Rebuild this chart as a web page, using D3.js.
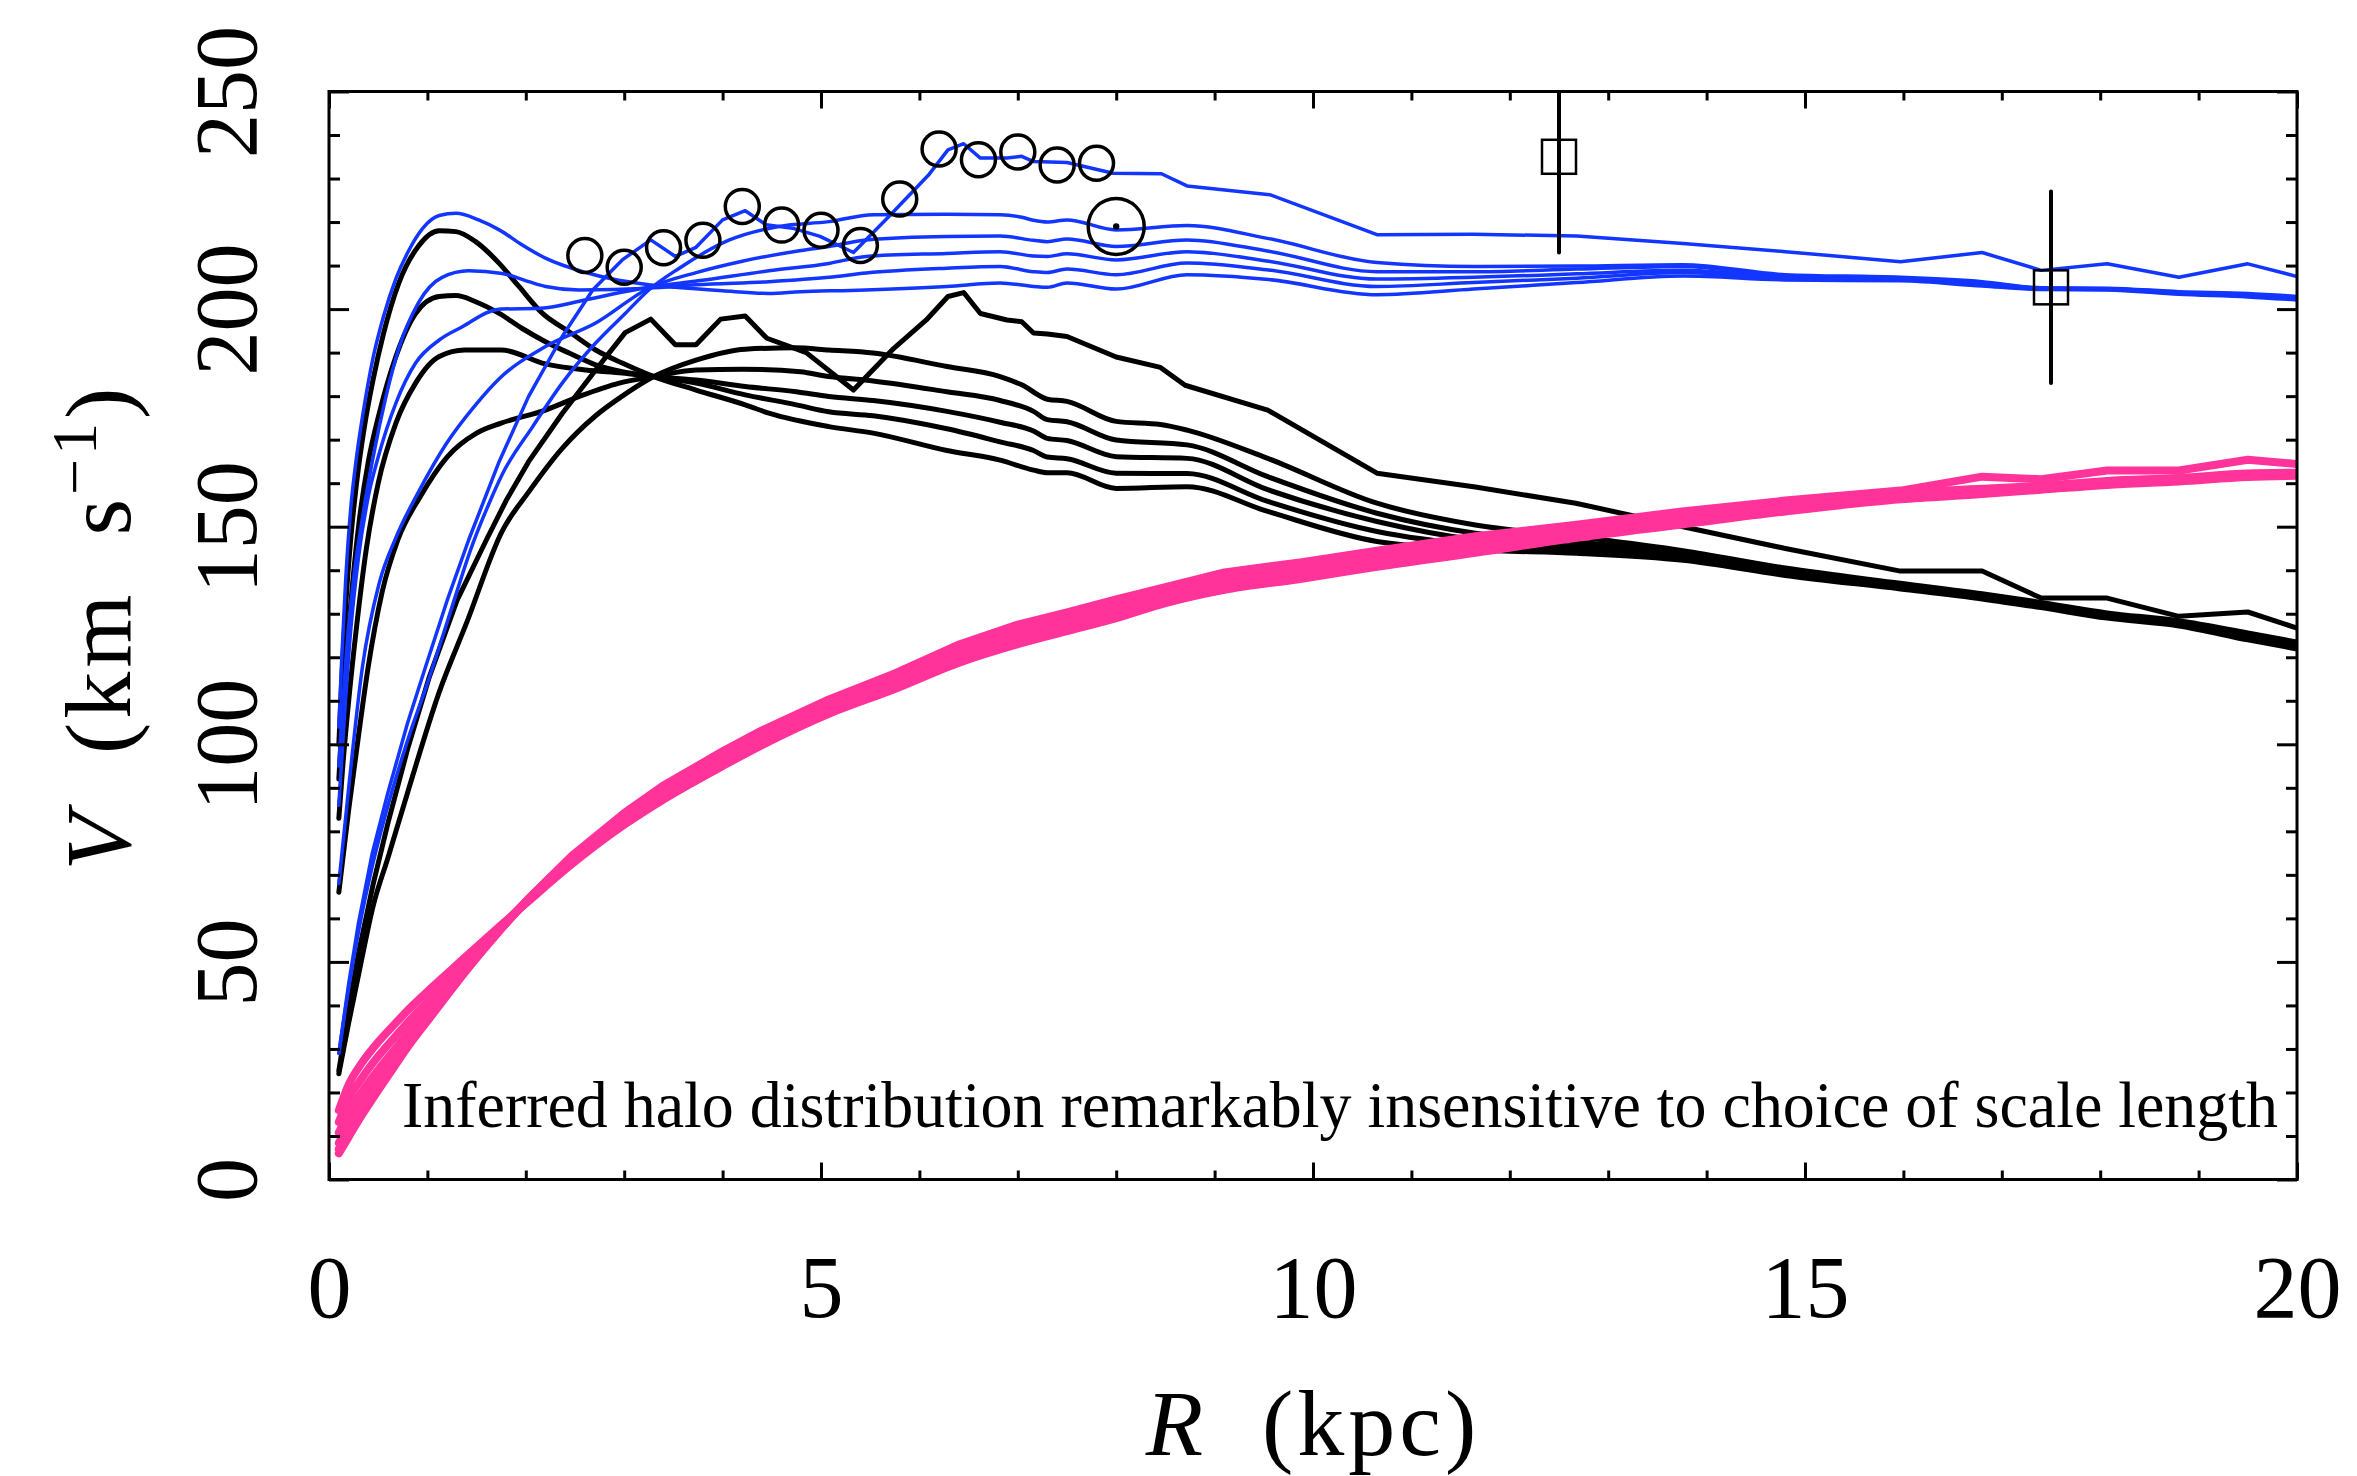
<!DOCTYPE html>
<html><head><meta charset="utf-8">
<script src="https://cdn.jsdelivr.net/npm/d3@7"></script>
<style>
body{margin:0;background:#fff}
svg{display:block;background:#fff}
text{font-family:"Liberation Serif","DejaVu Serif",serif;fill:#000}
</style>
</head><body>
<svg id="chart" width="2357" height="1476"></svg>
<script>
// ---------------- DATA ----------------
const xMajorTicks = [0, 5, 10, 15, 20];
const xMinorTicks = [1,2,3,4,6,7,8,9,11,12,13,14,16,17,18,19];
const yMajorTicks = [0, 50, 100, 150, 200, 250];
const yMinorTicks = [10,20,30,40,60,70,80,90,110,120,130,140,160,170,180,190,210,220,230,240];

// observed rotation-curve points (open circles)
const dataR = [2.6,3.0,3.4,3.8,4.2,4.6,5.0,5.4,5.8,6.2,6.6,7.0,7.4,7.8];
const dataV = [212.3,209.6,214.1,215.8,223.6,219.3,218.1,214.6,225.3,236.8,234.3,236.1,233.1,233.5];
// Sun
const sunR = [8.0];
const sunV = [219];
// outer points (open squares with error bars)
const outerR = [12.5, 17.5];
const outerV = [235, 205];
const outerErr = [22, 22];

// total rotation curves (blue), smallest to largest disc scale length, plus data-following curve
const totalB1 = [[0.1,104],[0.13,120],[0.17,138],[0.22,154],[0.28,166],[0.36,178],[0.45,189],[0.55,198],[0.68,207],[0.8,213],[0.95,218.5],[1.12,221.5],[1.29,222],[1.52,220.5],[1.73,218.2],[1.96,214.8],[2.2,211.7],[2.61,208.4],[2.88,206.9],[3.25,205.6],[3.52,205],[4.0,204.2],[4.47,203.6],[4.79,204],[5.3,204.3],[6.28,205.2],[6.82,206],[7.16,205.2],[7.3,205],[7.5,206],[8.0,204.6],[8.72,207.9],[9.55,206.8],[10.65,203.3],[11.63,204.6],[12.68,206.1],[13.76,207.6],[14.8,206.7],[15.97,206.5],[16.8,205.3],[17.4,204.5],[18.07,204.4],[18.8,203.4],[19.5,202.8],[20,202.1]];
const totalB2 = [[0.1,95],[0.13,106],[0.18,122],[0.25,138],[0.34,152],[0.44,165],[0.58,180],[0.71,191],[0.91,201.5],[1.15,207.3],[1.42,208.8],[1.76,208.2],[2.03,206.3],[2.2,205.2],[2.54,204.4],[3.25,204.8],[3.73,205.6],[4.47,206.3],[5.08,207.3],[5.46,208.3],[6.28,209.4],[6.82,209.8],[7.16,208.6],[7.3,208.4],[7.5,209.2],[8.0,207.9],[8.72,210.6],[9.55,209],[10.65,205.2],[11.63,206.1],[12.68,207.1],[13.76,208.4],[14.8,207],[15.97,206.7],[16.8,205.7],[17.4,204.6],[18.07,204.5],[18.8,203.6],[19.5,203],[20,202.3]];
const totalB3 = [[0.1,86],[0.15,104],[0.22,126],[0.3,143],[0.4,157],[0.5,166],[0.68,178.4],[0.88,187.6],[1.12,192.9],[1.36,196],[1.63,199.4],[1.75,200],[2.15,200.2],[2.6,202.1],[3.0,204],[3.3,205.2],[3.75,206.5],[4.47,208.8],[5.08,210.5],[5.46,212.1],[6.28,212.8],[6.82,213.2],[7.16,212.2],[7.3,212.1],[7.5,212.7],[8.0,211.3],[8.72,213.2],[9.55,211],[10.65,206.9],[11.63,207.3],[12.68,208.1],[13.76,208.9],[14.8,207.3],[15.97,206.9],[16.8,205.9],[17.4,204.7],[18.07,204.6],[18.8,203.8],[19.5,203.2],[20,202.5]];
const totalB4 = [[0.1,68],[0.2,90],[0.34,117.8],[0.51,137],[0.68,147.5],[0.91,158],[1.19,169],[1.49,178],[1.73,184],[2.2,191.4],[2.71,196.8],[3.25,204.8],[3.75,208.5],[4.2,211],[4.75,213.3],[5.08,214.4],[5.46,215.9],[6.28,216.7],[6.82,216.8],[7.16,215.8],[7.3,215.5],[7.5,216.1],[8.0,214.4],[8.72,215.9],[9.55,213.3],[10.65,208.6],[11.63,208.6],[12.68,209.2],[13.76,209.8],[14.8,207.6],[15.97,207.1],[16.8,206.1],[17.4,204.8],[18.07,204.7],[18.8,203.9],[19.5,203.4],[20,202.7]];
const totalB5 = [[0.1,29],[0.2,44],[0.3,57],[0.44,72],[0.6,86],[0.8,101],[1.0,114],[1.2,128],[1.46,146],[1.62,155],[1.76,162],[2.07,173],[2.37,183],[2.71,192.2],[3.01,199],[3.25,204.4],[3.56,209.4],[4.07,215.9],[4.57,219],[5.08,220.1],[5.53,221.7],[6.28,221.8],[6.82,221.7],[7.04,221.1],[7.16,220.4],[7.3,220],[7.5,220.5],[8.0,218.2],[8.72,219.2],[9.55,216.2],[10.65,210.7],[11.63,209.8],[12.68,209.9],[13.76,210.2],[14.8,207.9],[15.97,207.3],[16.8,206.3],[17.4,204.9],[18.07,204.8],[18.8,204],[19.5,203.6],[20,202.9]];
const totalData = [[0.1,29],[0.2,45],[0.3,59],[0.44,75],[0.6,89],[0.8,105],[0.97,117],[1.2,133],[1.42,147],[1.73,165],[2.03,180],[2.37,193.7],[2.68,204.4],[2.98,211.3],[3.27,215.9],[3.52,212.1],[3.73,214.2],[4.0,220.5],[4.23,222.6],[4.44,219.4],[4.71,218.6],[4.99,216.7],[5.33,213],[5.69,221.3],[6.1,231],[6.29,236.6],[6.45,238],[6.62,234.7],[6.89,234.7],[7.04,235.1],[7.16,233.9],[7.5,233.7],[7.97,231.2],[8.46,231.1],[8.72,228.3],[9.56,226.3],[10.65,217.1],[11.63,217.2],[12.68,216.8],[13.76,215.1],[14.8,213.2],[15.97,210.9],[16.8,213],[17.4,208.9],[18.07,210.4],[18.8,207.3],[19.5,210.4],[20,207.5]];

// disc contributions (black)
const discK1 = [[0.1,100],[0.13,115],[0.17,132],[0.22,147],[0.28,160],[0.36,173],[0.45,184],[0.55,194],[0.71,206],[0.91,214.5],[1.12,218],[1.29,217.8],[1.49,215.5],[1.73,210.5],[1.93,205.2],[2.17,199],[2.44,194.8],[2.71,190.6],[2.98,187.6],[3.3,184.5],[3.73,181.4],[4.23,178],[4.47,176.1],[5.08,173],[5.53,171.5],[6.28,167.5],[6.82,165.3],[7.16,163],[7.3,162.4],[7.5,162.4],[8.0,158.8],[8.72,159.2],[9.54,153.5],[10.65,146.6],[11.65,144.7],[12.68,143.9],[13.76,142.3],[14.8,138.8],[15.97,135.7],[16.8,133.4],[17.4,131.4],[18.07,129],[18.8,127.2],[19.5,124],[20,121.9]];
const discK2 = [[0.1,92],[0.13,104],[0.17,118],[0.22,132],[0.3,150],[0.4,165],[0.51,176],[0.68,189.1],[0.88,199],[1.12,202.9],[1.29,203.1],[1.49,201.7],[1.73,199],[1.96,195.6],[2.2,192.5],[2.44,189.9],[2.71,187.2],[2.98,185.6],[3.3,184.5],[3.73,183],[4.23,180.3],[4.75,178],[5.08,176.4],[5.53,175.5],[6.28,172.5],[6.82,169.5],[7.16,167.5],[7.3,166],[7.5,165.6],[8.0,162.3],[8.72,162.2],[9.54,155.8],[10.65,148.9],[11.65,145.8],[12.68,144.7],[13.76,142.8],[14.8,139.2],[15.97,136],[16.8,133.7],[17.4,131.7],[18.07,129.3],[18.8,127.5],[19.5,124.4],[20,122.3]];
const discK3 = [[0.1,83],[0.14,95],[0.2,110],[0.28,127],[0.38,145],[0.5,160],[0.68,173.8],[0.88,183],[1.12,189.1],[1.38,190.6],[1.75,190.6],[2.2,187.4],[2.61,186],[2.98,185.3],[3.3,184.5],[3.73,183.7],[4.23,182.2],[4.75,181],[5.08,179.9],[5.53,179],[6.28,176.5],[6.82,174],[7.16,172],[7.3,170.3],[7.5,169.8],[8.0,166.1],[8.72,165.7],[9.54,158.5],[10.65,151.2],[11.65,147],[12.68,145.5],[13.76,143.3],[14.8,139.6],[15.97,136.3],[16.8,134],[17.4,132],[18.07,129.6],[18.8,127.8],[19.5,124.8],[20,122.7]];
const discK4 = [[0.1,66],[0.2,85],[0.3,102],[0.4,118],[0.54,135],[0.7,147],[0.93,157],[1.2,166],[1.5,171.5],[1.75,173.8],[2.2,176.8],[2.54,179.9],[2.95,183],[3.3,184.5],[3.73,186],[4.2,186.2],[4.79,185.6],[5.08,184.5],[5.53,183.5],[6.28,181],[6.82,179],[7.16,176.5],[7.3,174.6],[7.5,174.1],[8.0,169.9],[8.72,168.8],[9.54,161.5],[10.65,153.1],[11.65,148.5],[12.68,146.5],[13.76,144],[14.8,140],[15.97,136.6],[16.8,134.3],[17.4,132.3],[18.07,129.9],[18.8,128.1],[19.5,125.2],[20,123.1]];
const discK5 = [[0.1,24.3],[0.2,36],[0.3,47],[0.45,63],[0.6,74],[0.8,89],[1.12,112],[1.4,128],[1.76,149],[2.03,158],[2.37,168],[2.71,175.5],[2.98,180],[3.3,184.5],[3.73,188.3],[4.23,190.8],[4.74,191.1],[5.08,190.6],[5.53,189.9],[6.28,186.8],[6.82,184.5],[7.04,182.6],[7.3,179.3],[7.5,178.8],[8.0,174.2],[8.45,173.5],[8.72,172.2],[9.54,165.7],[10.65,155.4],[11.65,150.4],[12.68,147.7],[13.76,144.5],[14.8,140.5],[15.97,137],[16.8,134.6],[17.4,132.6],[18.07,130.2],[18.8,128.4],[19.5,125.6],[20,123.5]];
const discData = [[0.1,25],[0.2,39],[0.3,52],[0.45,68],[0.6,82],[0.8,99],[1.02,115.5],[1.3,133],[1.6,147],[1.8,156],[2.03,165],[2.37,176],[2.71,186],[3.01,194.6],[3.27,197.7],[3.52,191.8],[3.73,191.8],[3.98,197.7],[4.23,198.4],[4.45,193.3],[4.85,190],[5.33,181.4],[5.74,191],[6.07,197.5],[6.29,202.9],[6.45,203.8],[6.62,199],[6.89,197.5],[7.04,197.1],[7.16,194.5],[7.3,194.3],[7.5,193.7],[8.0,189],[8.45,186.6],[8.7,182.5],[9.54,176.8],[10.65,162.3],[11.65,159.1],[12.67,155.4],[13.76,150],[14.8,145],[15.97,139.8],[16.8,139.8],[17.4,133.6],[18.07,133.6],[18.8,129.4],[19.5,130.4],[20,126.7]];

// inferred halo contributions (pink)
const haloR  = [0.1,0.2,0.34,0.5,0.68,0.85,1.02,1.2,1.36,1.69,2.03,2.47,3.0,3.39,4.0,4.4,5.08,5.75,6.41,7.0,7.5,8.0,8.51,9.1,9.87,10.65,11.65,12.7,13.75,14.8,15.97,16.8,17.4,18.07,18.8,19.5,20.0];
const haloP1 = [15.9,21.8,27.0,31.6,36.0,40.0,43.6,47.3,50.6,57.3,64.0,72.5,81.5,87.2,95.0,99.8,107.0,112.7,118.8,123.0,126.0,129.0,132.5,135.5,138.0,140.8,144.0,147.5,150.5,153.5,156.3,157.5,158.5,159.6,160.4,161.4,161.7];
const haloP2 = [13.2,18.5,23.5,28.3,33.0,37.3,41.3,45.5,49.3,56.8,64.3,73.0,82.0,87.9,95.7,100.5,107.7,113.4,119.6,123.8,126.8,129.8,133.2,136.2,138.8,141.5,144.7,148.0,151.0,154.0,156.8,157.8,158.8,159.9,160.6,161.6,161.9];
const haloP3 = [10.8,15.3,20.3,25.2,30.2,34.8,39.4,44.0,48.3,56.5,64.4,73.4,82.6,88.5,96.4,101.2,108.4,114.1,120.4,124.6,127.6,130.6,133.9,136.9,139.5,142.2,145.3,148.5,151.5,154.5,157.2,158.1,159.0,160.1,160.8,161.8,162.1];
const haloP4 = [8.4,12.5,17.6,22.8,28.3,33.4,38.2,43.2,47.6,56.2,64.5,73.7,83.1,89.1,97.1,101.9,109.1,114.8,121.2,125.5,128.4,131.5,134.6,137.6,140.3,142.9,145.9,149.0,152.0,154.9,157.5,158.4,159.2,160.3,161.0,162.0,162.3];
const haloP5 = [6.0,9.8,15.0,20.5,26.5,32.0,37.0,42.3,47.0,56.0,64.5,74.0,83.6,89.7,97.8,102.6,109.8,115.5,122.0,126.3,129.2,132.3,135.3,138.3,141.0,143.5,146.5,149.5,152.5,155.3,157.8,158.7,159.4,160.5,161.2,162.2,162.4];
const haloData = [7.0,11.0,16.3,21.7,27.4,32.7,37.6,42.7,47.3,56.1,64.6,74.4,84.2,90.4,98.4,103.2,110.3,116.3,123.0,127.5,130.3,133.3,136.2,139.5,141.8,144.5,147.8,150.5,153.5,156.0,158.3,161.5,160.9,162.9,162.9,165.4,164.4];

const annotation = "Inferred halo distribution remarkably insensitive to choice of scale length";

// ---------------- DRAW ----------------
const svg = d3.select("#chart");
const M = {l:329, r:2297, t:91.5, b:1179.5};
const x = d3.scaleLinear().domain([0,20]).range([M.l, M.r]);
const y = d3.scaleLinear().domain([0,250]).range([M.b, M.t]);

const BLUE = "#1236ff", PINK = "#ff3399";

svg.append("defs").append("clipPath").attr("id","plotclip")
  .append("rect").attr("x",M.l).attr("y",M.t).attr("width",M.r-M.l).attr("height",M.b-M.t);

const plot = svg.append("g").attr("clip-path","url(#plotclip)");

const lineSmooth = d3.line().x(d=>x(d[0])).y(d=>y(d[1])).curve(d3.curveMonotoneX);
const lineLin = d3.line().x(d=>x(d[0])).y(d=>y(d[1])).curve(d3.curveLinear);

// black disc curves
[discK1,discK2,discK3,discK4,discK5].forEach(c=>{
  plot.append("path").attr("d",lineSmooth(c)).attr("fill","none").attr("stroke","#000")
    .attr("stroke-width",5).attr("stroke-linejoin","round").attr("stroke-linecap","round");
});
plot.append("path").attr("d",lineLin(discData)).attr("fill","none").attr("stroke","#000")
  .attr("stroke-width",5).attr("stroke-linejoin","round").attr("stroke-linecap","round");

// blue total curves
[totalB1,totalB2,totalB3,totalB4,totalB5].forEach(c=>{
  plot.append("path").attr("d",lineSmooth(c)).attr("fill","none").attr("stroke",BLUE)
    .attr("stroke-width",3.5).attr("stroke-linejoin","round").attr("stroke-linecap","round");
});
plot.append("path").attr("d",lineLin(totalData)).attr("fill","none").attr("stroke",BLUE)
  .attr("stroke-width",3.5).attr("stroke-linejoin","round").attr("stroke-linecap","round");

// pink halo curves
[haloP1,haloP2,haloP3,haloP4,haloP5].forEach(v=>{
  const pts = haloR.map((r,i)=>[r,v[i]]);
  plot.append("path").attr("d",lineSmooth(pts)).attr("fill","none").attr("stroke",PINK)
    .attr("stroke-width",8).attr("stroke-linejoin","round").attr("stroke-linecap","round");
});
plot.append("path").attr("d",lineLin(haloR.map((r,i)=>[r,haloData[i]]))).attr("fill","none")
  .attr("stroke",PINK).attr("stroke-width",8).attr("stroke-linejoin","round").attr("stroke-linecap","round");

// data circles
plot.selectAll("circle.obs").data(dataR.map((r,i)=>[r,dataV[i]])).join("circle")
  .attr("class","obs").attr("cx",d=>x(d[0])).attr("cy",d=>y(d[1])).attr("r",17)
  .attr("fill","none").attr("stroke","#000").attr("stroke-width",3.5);

// Sun symbol
const sun = sunR.map((r,i)=>[r,sunV[i]]);
plot.selectAll("circle.sun").data(sun).join("circle").attr("class","sun")
  .attr("cx",d=>x(d[0])).attr("cy",d=>y(d[1])).attr("r",28)
  .attr("fill","none").attr("stroke","#000").attr("stroke-width",3.5);
plot.selectAll("circle.sundot").data(sun).join("circle").attr("class","sundot")
  .attr("cx",d=>x(d[0])).attr("cy",d=>y(d[1])).attr("r",3.2).attr("fill","#000");

// outer points: squares with error bars
const outer = outerR.map((r,i)=>({r, v:outerV[i], e:outerErr[i]}));
plot.selectAll("rect.sq").data(outer).join("rect").attr("class","sq")
  .attr("x",d=>x(d.r)-17).attr("y",d=>y(d.v)-17).attr("width",34).attr("height",34)
  .attr("fill","none").attr("stroke","#000").attr("stroke-width",2.5);
plot.selectAll("line.err").data(outer).join("line").attr("class","err")
  .attr("x1",d=>x(d.r)).attr("x2",d=>x(d.r)).attr("y1",d=>y(d.v-d.e)).attr("y2",d=>y(d.v+d.e))
  .attr("stroke","#000").attr("stroke-width",4).attr("stroke-linecap","round");

// annotation
svg.append("text").attr("x",402).attr("y",1127).attr("font-size",65)
  .attr("textLength",1876).attr("lengthAdjust","spacingAndGlyphs").text(annotation);

// ---------------- AXES ----------------
function styleAxis(g){
  g.select(".domain").remove();
  g.selectAll(".tick line").attr("stroke","#000").attr("stroke-width",3);
}
// bottom
svg.append("g").attr("transform",`translate(0,${M.b})`)
  .call(d3.axisBottom(x).tickValues(xMinorTicks).tickSize(-9).tickFormat("")).call(styleAxis);
const gb = svg.append("g").attr("transform",`translate(0,${M.b})`)
  .call(d3.axisBottom(x).tickValues(xMajorTicks).tickSize(-17).tickFormat(d3.format("d"))).call(styleAxis);
gb.selectAll(".tick text").attr("y",137.5).attr("dy",0).attr("font-size",88)
  .attr("font-family",'"Liberation Serif",serif').attr("fill","#000");
// top
svg.append("g").attr("transform",`translate(0,${M.t})`)
  .call(d3.axisTop(x).tickValues(xMinorTicks).tickSize(-9).tickFormat("")).call(styleAxis);
svg.append("g").attr("transform",`translate(0,${M.t})`)
  .call(d3.axisTop(x).tickValues(xMajorTicks).tickSize(-17).tickFormat("")).call(styleAxis);
// left
svg.append("g").attr("transform",`translate(${M.l},0)`)
  .call(d3.axisLeft(y).tickValues(yMinorTicks).tickSize(-11).tickFormat("")).call(styleAxis);
const gl = svg.append("g").attr("transform",`translate(${M.l},0)`)
  .call(d3.axisLeft(y).tickValues(yMajorTicks).tickSize(-20).tickFormat(d3.format("d"))).call(styleAxis);
gl.selectAll(".tick text").attr("x",null).attr("dy",null)
  .attr("text-anchor","middle").attr("font-size",88)
  .attr("font-family",'"Liberation Serif",serif').attr("fill","#000")
  .attr("transform",`translate(${256-M.l},0) rotate(-90)`);
// right
svg.append("g").attr("transform",`translate(${M.r},0)`)
  .call(d3.axisRight(y).tickValues(yMinorTicks).tickSize(-11).tickFormat("")).call(styleAxis);
svg.append("g").attr("transform",`translate(${M.r},0)`)
  .call(d3.axisRight(y).tickValues(yMajorTicks).tickSize(-20).tickFormat("")).call(styleAxis);

// frame
svg.append("rect").attr("x",M.l).attr("y",M.t).attr("width",M.r-M.l).attr("height",M.b-M.t)
  .attr("fill","none").attr("stroke","#000").attr("stroke-width",3);

// axis titles
const xt = svg.append("text").attr("x",(M.l+M.r)/2).attr("y",1455).attr("text-anchor","middle")
  .attr("font-size",94).attr("style","white-space:pre").attr("letter-spacing",4);
xt.append("tspan").attr("font-style","italic").text("R");
xt.append("tspan").text("  (kpc)");

const yt = svg.append("text").attr("transform",`translate(130,627) rotate(-90)`).attr("text-anchor","middle")
  .attr("font-size",94).attr("style","white-space:pre").attr("letter-spacing",4);
yt.append("tspan").attr("font-style","italic").text("V");
yt.append("tspan").text("  (km  s");
yt.append("tspan").attr("dy",-34).attr("font-size",64).text("\u22121");
yt.append("tspan").attr("dy",34).text(")");
</script>
</body></html>
